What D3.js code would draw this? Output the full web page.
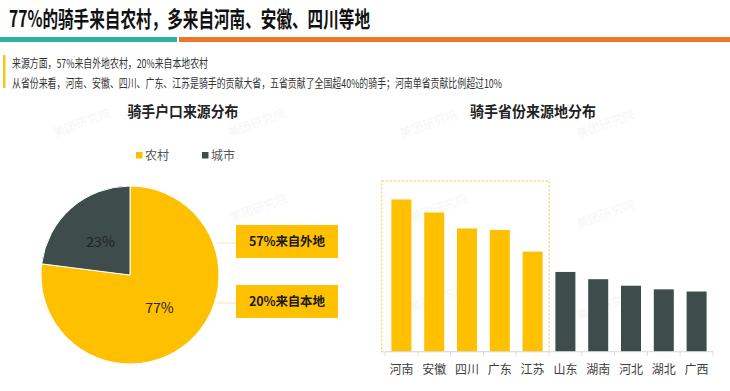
<!DOCTYPE html>
<html><head><meta charset="utf-8">
<script src="https://cdn.jsdelivr.net/npm/d3@7/dist/d3.min.js"></script>
<style>
html,body{margin:0;padding:0;background:#fff;}
svg{display:block;font-family:"Noto Sans CJK SC","Noto Sans",sans-serif;}
</style></head>
<body><svg id="c" width="730" height="391"></svg>
<script>
const headline = "77%的骑手来自农村，多来自河南、安徽、四川等地";
const notes = ["来源方面，57%来自外地农村，20%来自本地农村",
  "从省份来看，河南、安徽、四川、广东、江苏是骑手的贡献大省，五省贡献了全国超40%的骑手；河南单省贡献比例超过10%"];
const pieTitle = "骑手户口来源分布";
const hukouNames = ["农村", "城市"];
const hukouValues = [77, 23];
const ruralSplitLabels = ["57%来自外地", "20%来自本地"];
const barTitle = "骑手省份来源地分布";
const provinces = ["河南","安徽","四川","广东","江苏","山东","湖南","河北","湖北","广西"];
const provinceShares = [10.5, 9.6, 8.5, 8.4, 6.9, 5.5, 5.0, 4.55, 4.3, 4.15];
const topCount = 5;

const YEL = "#FFC000", DARK = "#3E4C4C";
const svg = d3.select("#c");

// watermarks
const wm = [[83,127],[258,127],[260,212],[105,300],[430,128],[607,128],[440,212],[607,218],[440,302],[607,310]];
svg.append("g").selectAll("text").data(wm).join("text")
  .attr("transform", d => `translate(${d[0]},${d[1]}) rotate(-20)`)
  .attr("text-anchor","middle").attr("font-size",12).attr("fill","#000").attr("opacity",0.035)
  .text("美团研究院");

// header
svg.append("text").attr("x",9).attr("y",27).attr("font-size",22).attr("font-weight",700)
  .attr("fill","#111").attr("textLength",361).attr("lengthAdjust","spacingAndGlyphs").text(headline);
svg.append("rect").attr("x",0).attr("y",37).attr("width",177).attr("height",5).attr("fill","#2AB3A2");
svg.append("rect").attr("x",179).attr("y",37).attr("width",551).attr("height",5).attr("fill","#EE7628");
svg.append("rect").attr("x",3).attr("y",55).attr("width",2.5).attr("height",33).attr("fill","#F5C518");
const noteW = [196, 490];
svg.append("g").selectAll("text").data(notes).join("text")
  .attr("x",12).attr("y",(d,i)=>67.5+i*20).attr("font-size",12).attr("fill","#333")
  .attr("textLength",(d,i)=>noteW[i]).attr("lengthAdjust","spacingAndGlyphs").text(d=>d);

// pie titles
svg.append("text").attr("x",183).attr("y",117).attr("text-anchor","middle").attr("font-size",15)
  .attr("font-weight",700).attr("fill","#222").attr("textLength",111).attr("lengthAdjust","spacingAndGlyphs").text(pieTitle);

// legend
const pieColor = d3.scaleOrdinal().domain(hukouNames).range([YEL, DARK]);
const lg = svg.append("g").selectAll("g").data(hukouNames).join("g")
  .attr("transform",(d,i)=>`translate(${136+i*66},152)`);
lg.append("rect").attr("width",6.5).attr("height",6.5).attr("fill",d=>pieColor(d));
lg.append("text").attr("x",9).attr("y",7.5).attr("font-size",12).attr("fill","#555").text(d=>d);

// pie
const cx = 130, cy = 275, R = 89;
const pieData = d3.pie().sort(null).value(d=>d.v)(hukouNames.map((n,i)=>({n, v:hukouValues[i]})));
const arc = d3.arc().innerRadius(0).outerRadius(R);
const lblArc = d3.arc().innerRadius(R/2).outerRadius(R/2);
const pg = svg.append("g").attr("transform",`translate(${cx},${cy})`);
pg.selectAll("path").data(pieData).join("path").attr("d",arc)
  .attr("fill",d=>pieColor(d.data.n)).attr("stroke","#fff").attr("stroke-width",1);
pg.selectAll("text").data(pieData).join("text")
  .attr("transform",d=>`translate(${lblArc.centroid(d)})`)
  .attr("text-anchor","middle").attr("dy","0.36em").attr("font-size",14)
  .attr("fill","#222").text(d=>d.data.v+"%");

// rural split boxes
const boxY = [225, 285];
const bg = svg.append("g").selectAll("g").data(ruralSplitLabels).join("g");
bg.append("line").attr("x1",217).attr("x2",236).attr("y1",(d,i)=>boxY[i]+18).attr("y2",(d,i)=>boxY[i]+18)
  .attr("stroke","#FBE7A8").attr("stroke-width",1);
bg.append("rect").attr("x",236).attr("y",(d,i)=>boxY[i]).attr("width",102).attr("height",33).attr("fill",YEL);
bg.append("text").attr("x",287).attr("y",(d,i)=>boxY[i]+16.5).attr("dy","0.36em").attr("text-anchor","middle")
  .attr("font-size",12.5).attr("font-weight",700).attr("fill","#1a1a1a")
  .attr("textLength",76).attr("lengthAdjust","spacing").text(d=>d);

// bar chart
svg.append("text").attr("x",533).attr("y",117).attr("text-anchor","middle").attr("font-size",15)
  .attr("font-weight",700).attr("fill","#222").attr("textLength",126).attr("lengthAdjust","spacingAndGlyphs").text(barTitle);

const base = 351.7;
const x = d3.scaleBand().domain(provinces).range([385,713]).paddingInner(0.39).paddingOuter(0.195);
const y = d3.scaleLinear().domain([0,12]).range([base, base-174]);
const bars = svg.append("g");
bars.selectAll("rect").data(provinces).join("rect")
  .attr("x",d=>x(d)).attr("width",x.bandwidth())
  .attr("y",(d,i)=>y(provinceShares[i])).attr("height",(d,i)=>base-y(provinceShares[i]))
  .attr("fill",(d,i)=>i<topCount?YEL:DARK);

// highlight box around top provinces
const step = x.step();
const x0 = 385 - 3.3, x1 = 385 + step*topCount + 0.2;
svg.append("rect").attr("x",x0).attr("y",181).attr("width",x1-x0).attr("height",base-181)
  .attr("fill","none").attr("stroke","#F7D56A").attr("stroke-width",1.3).attr("stroke-dasharray","2,2");

// axis
const ax = svg.append("g");
ax.append("line").attr("x1",385).attr("x2",713).attr("y1",base).attr("y2",base).attr("stroke","#D9D9D9");
ax.selectAll("line.t").data(d3.range(provinces.length+1)).join("line").attr("class","t")
  .attr("x1",i=>385+i*step).attr("x2",i=>385+i*step).attr("y1",base).attr("y2",base+4).attr("stroke","#D9D9D9");
ax.selectAll("text").data(provinces).join("text")
  .attr("x",d=>x(d)+x.bandwidth()/2).attr("y",370).attr("dy","0.36em").attr("text-anchor","middle")
  .attr("font-size",12).attr("fill","#404040").text(d=>d);
</script></body></html>
